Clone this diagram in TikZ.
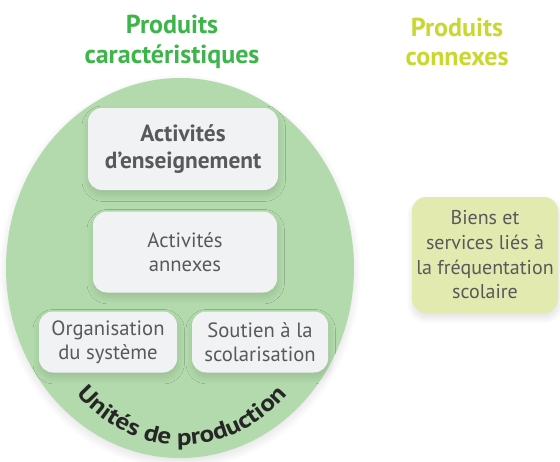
\documentclass[tikz,border=0pt]{standalone}
\usepackage{fontspec}
\setmainfont{PT Sans}
\newfontfamily\arcfont[FakeStretch=1.16]{PT Sans Bold}
\usetikzlibrary{shadows.blur,decorations.text}

\definecolor{titlegreen}{RGB}{61,181,74}
\definecolor{titlelime}{RGB}{201,216,47}
\definecolor{blobgreen}{RGB}{178,218,172}
\definecolor{boxgray}{RGB}{241,242,244}
\definecolor{boxlime}{RGB}{227,234,176}
\definecolor{textgray}{RGB}{88,89,91}

\tikzset{every picture/.style={line width=0.75pt}}
\tikzset{
  actbox/.style={rounded corners=10.5pt, fill=boxgray, text=textgray, align=center,
    blur shadow={shadow xshift=0.5pt, shadow yshift=-3.5pt, shadow blur radius=5pt,
      shadow blur steps=20, shadow blur extra rounding=4pt, shadow opacity=13},
    inner sep=0pt, font=\fontsize{15.5}{18}\selectfont},
  titletext/.style={align=center, font=\bfseries\fontsize{19.5}{22}\selectfont}
}

\begin{document}
\begin{tikzpicture}[x=0.75pt,y=0.75pt,yscale=-1,xscale=1]
\useasboundingbox (0,0) rectangle (560,461);

%Ellipse
\begin{scope}
\clip (0,0) rectangle (560,461);
\fill [blobgreen, blur shadow={shadow xshift=0pt, shadow yshift=-3pt, shadow blur radius=6pt, shadow blur steps=20, shadow opacity=12}]  (180,268) ellipse [x radius=174, y radius=190];
\end{scope}

% Text Node
\node [titletext, text=titlegreen] (carac) at (172,42) {Produits\\caractéristiques};
% Text Node
\node [titletext, text=titlelime] (connex) at (457,42) {Produits\\connexes};

% Box Node
\node [actbox, minimum width=142.5pt, minimum height=61.5pt, font=\bfseries\fontsize{17.5}{20}\selectfont] (ens) at (183,149) {Activités\\d'enseignement};
% Box Node
\node [actbox, minimum width=138pt, minimum height=60.75pt] (ann) at (185,252) {Activités\\annexes};
% Box Node
\node [actbox, minimum width=103.5pt, minimum height=45.75pt] (org) at (108,342) {Organisation\\du système};
% Box Node
\node [actbox, minimum width=102pt, minimum height=45.75pt] (sou) at (260,342) {Soutien à la\\scolarisation};
% Box Node
\node [actbox, fill=boxlime, minimum width=109.5pt, minimum height=87pt, font=\fontsize{15}{18.5}\selectfont] (biens) at (485,255) {Biens et\\services liés à\\la fréquentation\\scolaire};

% Curved Text
\path [decorate, decoration={text along path, text align=center,
  text={|\arcfont\fontsize{17.5}{20}\selectfont\color{black!85}|Unités de production}}]
  (182,264) ++(160:152 and 181) arc [start angle=160, end angle=20, x radius=152, y radius=181];

\end{tikzpicture}
\end{document}
